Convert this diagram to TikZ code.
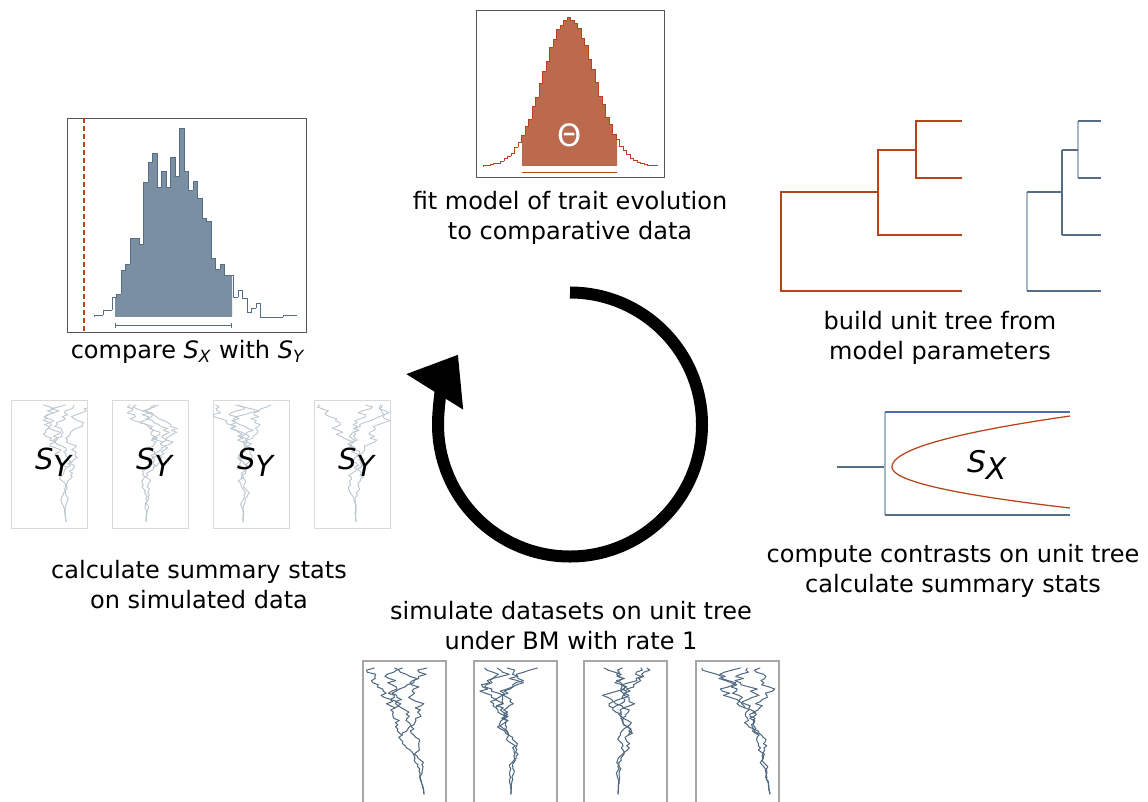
\documentclass[tikz,border=0pt]{standalone}
\usepackage{fontspec}
\setmainfont{DejaVu Sans}
\usetikzlibrary{arrows.meta}

\definecolor{rust}{HTML}{B5441A}
\definecolor{rustfill}{HTML}{BC6A4D}
\definecolor{slate}{HTML}{566E85}
\definecolor{slatefill}{HTML}{7A8FA2}
\definecolor{slatelight}{HTML}{A9B8C6}
\definecolor{sxblue}{HTML}{4F6DAA}
\definecolor{walkgrey}{HTML}{BCC7D1}
\definecolor{walkblue}{HTML}{4F6880}
\definecolor{frame}{HTML}{555555}

% bar heights of the two histograms
\newcommand\histA{0.5,1,1.5,3,2.5,5,8,10,13,19,24,31,40,47,60,69,83,95,105,119,127,137,141,146,149,146,143,138,128,121,107,97,84,70,62,49,42,32,27,20,16,12,8,6,4,3,2,1,1,0.5}
\newcommand\histB{2,2,7,7,20,23,47,53,79,79,73,135,155,164,130,146,130,160,141,189,146,127,136,119,99,96,59,48,53,42,42,20,27,19,5,9,14,0,0,0,0,0,2,2,2}

% random walk along one branch: start x, root y, first step, last step, step, spread, centre
\newcommand\bmwalk[7]{%
  \foreach \k [remember=\xn as \xp (initially #1)] in {#3,...,#4}{%
    \pgfmathsetmacro\xn{\xp+0.015*(#7-\xp)+#6*rand*\k/45}
    \draw (\xp,{#2-#5*(\k-1)}) -- (\xn,{#2-#5*\k});
    \xdef\xend{\xn}}}
% walks on the unit tree: root x, root y, step, spread, centre
\newcommand\bmtree[5]{%
  \bmwalk{#1}{#2}{1}{60}{#3}{#4}{#5}
  \bmwalk{#1}{#2}{1}{28}{#3}{#4}{#5}\let\xa\xend
  \bmwalk{\xa}{#2}{29}{60}{#3}{#4}{#5}
  \bmwalk{\xa}{#2}{29}{41}{#3}{#4}{#5}\let\xb\xend
  \bmwalk{\xb}{#2}{42}{60}{#3}{#4}{#5}
  \bmwalk{\xb}{#2}{42}{60}{#3}{#4}{#5}}

\begin{document}
\begin{tikzpicture}[x=0.02cm, y=-0.02cm,
    stage/.style={align=center, font=\fontsize{13.66pt}{17.07pt}\selectfont},
    stat/.style={font=\fontsize{16.5pt}{19pt}\selectfont},
    frm/.style={draw=frame, line width=0.02cm},
    treeor/.style={draw=rust, line width=0.03cm},
    treedk/.style={draw=slate, line width=0.04cm},
    treelt/.style={draw=slatelight, line width=0.03cm},
    walklight/.style={draw=walkgrey, line width=0.018cm, line cap=round},
    walkdark/.style={draw=walkblue, line width=0.02cm, line cap=round}]
  \clip (0,0) rectangle (1148,801);
  \pgfmathsetseed{11}

  % fitted model
  \draw[frm] (476,10) rectangle (664,177);
  \begin{scope}
    \clip (522,0) rectangle (617,177);
    \foreach \h [count=\i from 0] in \histA
      \fill[rustfill] ({483+3.5*\i},166) rectangle ++(3.5,-\h);
  \end{scope}
  \foreach \h [count=\i from 0, remember=\h as \hp (initially 0)] in \histA
    \draw[rust, line width=0.02cm] ({483+3.5*\i},{166-\hp}) -- ({483+3.5*\i},{166-\h}) -- ++(3.5,0);
  \draw[rust, line width=0.02cm] (522,172) -- (617,172);
  \node[text=white, font=\fontsize{17.5pt}{20pt}\selectfont] (theta) at (570,135) {Θ};
  \node[stage] (fit) at (570,218) {fit model of trait evolution\\to comparative data};

  % comparison
  \draw[frm] (67,118) rectangle (306,332);
  \begin{scope}
    \clip (115,0) rectangle (232,330);
    \foreach \h [count=\i from 0] in \histB
      \fill[slatefill] ({94+4.5*\i},317) rectangle ++(4.5,-\h);
  \end{scope}
  \foreach \h [count=\i from 0, remember=\h as \hp (initially 0)] in \histB
    \draw[slate, line width=0.02cm] ({94+4.5*\i},{317-\hp}) -- ({94+4.5*\i},{317-\h}) -- ++(4.5,0);
  \draw[rust, line width=0.03cm, dash pattern=on 0.1cm off 0.06cm] (84,118) -- (84,332);
  \draw[slate, line width=0.02cm, {Bar[width=0.1cm]}-{Bar[width=0.1cm]}] (115,325) -- (232,325);
  \node[stage] (cmp) at (188,352) {compare \textit{S}\textsubscript{\textit{X}} with \textit{S}\textsubscript{\textit{Y}}};

  % trees
  \draw[treeor] (962,121) -| (916,178) -- (962,178);
  \draw[treeor] (916,150) -| (878,235) -- (962,235);
  \draw[treeor] (878,192) -| (781,291) -- (962,291);
  \draw[treelt] (1027,192) -- (1027,291);
  \draw[treelt] (1078,121) -- (1078,178);
  \draw[treedk] (1027,192) -- (1062,192);
  \draw[treedk] (1027,291) -- (1101,291);
  \draw[slate, line width=0.025cm] (1062,150) -- (1062,235);
  \draw[treedk] (1062,235) -- (1101,235);
  \draw[treedk] (1062,150) -- (1078,150);
  \draw[treedk] (1078,121) -- (1101,121);
  \draw[treedk] (1078,178) -- (1101,178);
  \node[stage] (build) at (940,338) {build unit tree from\\model parameters};

  % contrasts
  \draw[slate, line width=0.025cm] (837,467) -- (885,467);
  \draw[slatelight, line width=0.03cm] (885,412) -- (885,515);
  \draw[sxblue, line width=0.025cm] (885,412) -- (1070,412);
  \draw[slate, line width=0.03cm] (885,515) -- (1070,515);
  \draw[rust, line width=0.025cm] plot[domain=-1:0, samples=30] ({892+178*\x*\x},{467+51*\x})
    -- plot[domain=0:1, samples=30] ({892+178*\x*\x},{467+41*\x});
  \node[font=\fontsize{17pt}{20pt}\selectfont] (sx) at (987,465) {\textit{S}\raisebox{-0.23em}{\textit{X}}};
  \node[stage] (contrast) at (953,571) {compute contrasts on unit tree\\calculate summary stats};

  % summary stats of simulated data
  \foreach \px/\rx [count=\j] in {11/66, 112/146, 213/243, 314/356} {
    \draw[draw=black!15, line width=0.02cm] (\px,400) rectangle ++(76,128);
    \begin{scope}[walklight]
      \clip (\px,400) rectangle ++(76,128);
      \bmtree{\rx}{522}{1.95}{6.5}{\px+38}
    \end{scope}
    \node[stat] (sy\j) at (\px+43,462) {\textit{S}\raisebox{-0.23em}{\textit{Y}}};
  }
  \node[stage] (sumstat) at (199,585) {calculate summary stats\\on simulated data};

  % simulations
  \node[stage] (sim) at (571,626) {simulate datasets on unit tree\\under BM with rate 1};
  \foreach \px/\rx [count=\j] in {363/424, 474/511, 584/618, 696/770} {
    \draw[draw=black!35, line width=0.025cm] (\px,661) rectangle ++(83,160);
    \begin{scope}[walkdark]
      \clip (\px,661) rectangle ++(83,160);
      \bmtree{\rx}{794}{2.1}{7}{\px+41}
    \end{scope}
  }

  % cycle
  \draw[line width=0.24cm, -{Triangle[width=1.28cm,length=0.88cm]}] (570,292.5) arc[start angle=-90, end angle=212, radius=132];
\end{tikzpicture}
\end{document}
